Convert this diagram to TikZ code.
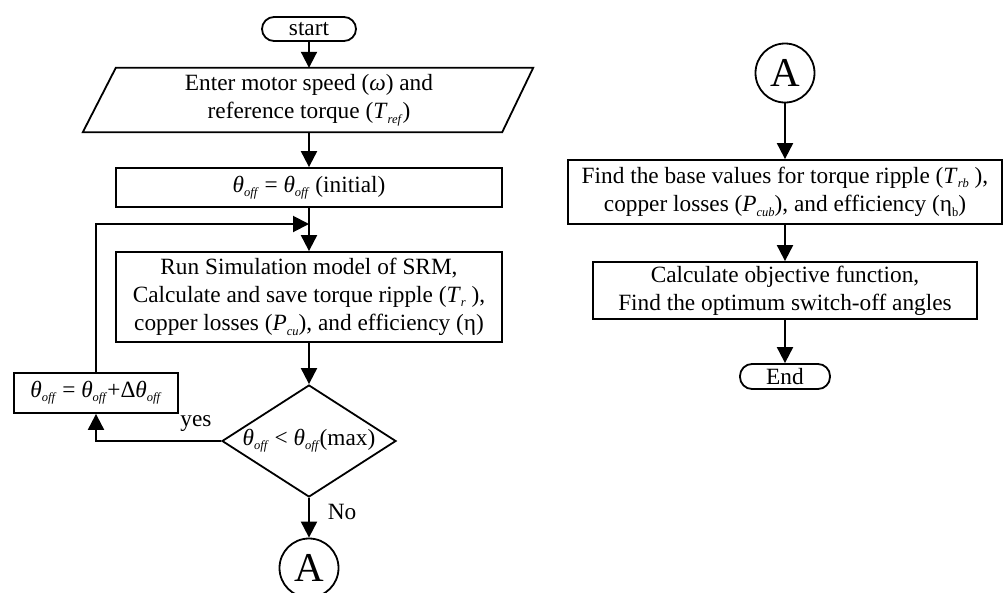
\documentclass[tikz,border=0pt]{standalone}
\usepackage{fontspec}
\setmainfont{Liberation Serif}
\usetikzlibrary{arrows.meta,shapes.geometric}
\newcommand{\lo}[1]{\raisebox{-0.18em}{\fontsize{12.5}{12.5}\selectfont #1}}
\newcommand{\toff}{\textit{θ}\lo{\textit{off}}}
\begin{document}
\begin{tikzpicture}[x=1pt,y=-1pt,
  every node/.style={font=\fontsize{23.3}{28.3}\selectfont, align=center, inner sep=0pt},
  box/.style={draw, line width=1.8pt, rectangle},
  term/.style={draw, line width=1.8pt, rounded corners=12pt},
  conn/.style={draw, circle, line width=1.8pt, minimum size=59pt, font=\fontsize{41}{41}\selectfont},
  flow/.style={line width=2pt, -{Triangle[length=16pt,width=16pt]}},
  lbl/.style={font=\fontsize{23.3}{28.3}\selectfont}]
\clip (0,0) rectangle (1004,592);
% left column
\node[term, minimum width=94pt, minimum height=24pt] (start) at (309,29) {start};
\node[minimum width=386pt, minimum height=64pt] (input) at (309,100)
  {Enter motor speed (\textit{ω}) and\\reference torque (\textit{T}\lo{\textit{ref}})};
\draw[line width=1.8pt] ([xshift=-33pt]input.south west) -- (input.north west)
  -- ([xshift=31pt]input.north east) -- (input.south east) -- cycle;
\node[box, minimum width=386pt, minimum height=39pt] (init) at (309,187.5)
  {\toff{} = \toff{} (initial)};
\node[box, minimum width=386pt, minimum height=90pt] (run) at (309,297)
  {Run Simulation model of SRM,\\Calculate and save torque ripple (\textit{T}\lo{\textit{r}} ),\\copper losses (\textit{P}\lo{\textit{cu}}), and efficiency (η)};
\node[diamond, draw, line width=1.8pt, minimum width=174pt, minimum height=112pt] (dec) at (309,441) {};
\node (dectext) at (309,441) {\toff{} < \toff(max)};
\node[box, minimum width=164pt, minimum height=40pt] (update) at (96,393)
  {\toff{} = \toff+Δ\textit{θ}\lo{\textit{off}}};
\node[conn] (A1) at (309,568) {A};
\node[lbl] (yes) at (196,424) {yes};
\node[lbl] (no) at (342,512) {No};
\coordinate (j) at (309,224);
\draw[flow] (start) -- (input);
\draw[flow] (input) -- (init);
\draw[flow] (init) -- (run);
\draw[flow] (update.north) |- (j);
\draw[flow] (run) -- (dec);
\draw[flow] (dec.west) -| (update.south);
\draw[flow] (dec) -- (A1);
% right column
\node[conn] (A2) at (785,73) {A};
\node[box, minimum width=434pt, minimum height=64pt] (base) at (785,192)
  {Find the base values for torque ripple (\textit{T}\lo{\textit{rb}} ),\\copper losses (\textit{P}\lo{\textit{cub}}), and efficiency (η\lo{b})};
\node[box, minimum width=384pt, minimum height=57pt] (obj) at (785,290.5)
  {Calculate objective function,\\Find the optimum switch-off angles};
\node[term, minimum width=90pt, minimum height=25pt] (end) at (785,376.5) {End};
\draw[flow] (A2) -- (base);
\draw[flow] (base) -- (obj);
\draw[flow] (obj) -- (end);
\end{tikzpicture}
\end{document}
